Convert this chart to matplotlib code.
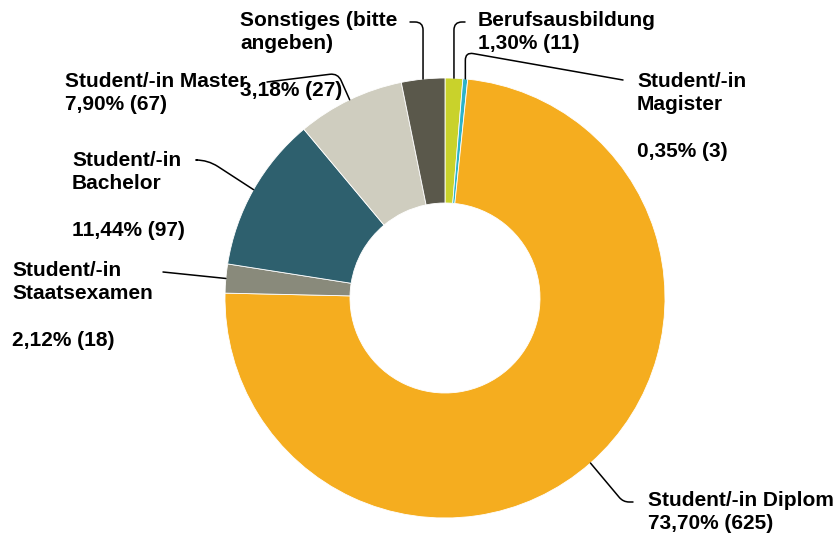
import matplotlib.pyplot as plt
import numpy as np

labels = ['Berufsausbildung', 'Student/-in\nMagister', 'Student/-in Diplom',
          'Student/-in\nStaatsexamen', 'Student/-in\nBachelor', 'Student/-in Master',
          'Sonstiges (bitte\nangeben)']
counts = [11, 3, 625, 18, 97, 67, 27]
percent_text = ['1,30%', '0,35%', '73,70%', '2,12%', '11,44%', '7,90%', '3,18%']
blank_line = [False, True, False, True, True, False, True]
colors = ['#c9d22b', '#2cb3c9', '#f5ad1f', '#898a7b', '#2e606e', '#cfcdbf', '#5a584b']

W, H = 837, 540
center = (445, H - 298)
radius = 220
hole = 95

# label top-left positions (pixels from top-left)
label_pos = [(478, 11), (637, 72), (648, 491), (12, 261), (72, 151), (65, 72), (240, 11)]
# leader lines: end point near label, angleA, angleB, corner radius
leaders = [((465, 22), 0, 90, 8),
           ((623, 80), 170, 90, 8),
           ((633, 502), 0, 130, 6),
           ((163, 272), 4, 4, 0),
           ((197, 160), 0, 147, 12),
           ((267, 82), 7, 114, 8),
           ((410, 22), 0, 90, 8)]

fig = plt.figure(figsize=(W / 100, H / 100), dpi=100)
ax = fig.add_axes([0, 0, 1, 1])

wedges, _ = ax.pie(counts, colors=colors, startangle=90, counterclock=False,
                   center=center, radius=radius,
                   wedgeprops=dict(width=radius - hole, edgecolor='white', linewidth=0.6))
ax.set_xlim(0, W)
ax.set_ylim(0, H)
ax.set_aspect('auto')
ax.axis('off')

font = dict(family='Liberation Sans', fontweight='bold', fontsize=15, color='black')

for i, w in enumerate(wedges):
    mid = np.deg2rad((w.theta1 + w.theta2) / 2)
    xy = (center[0] + radius * np.cos(mid), center[1] + radius * np.sin(mid))
    sep = '\n\n' if blank_line[i] else '\n'
    txt = f'{labels[i]}{sep}{percent_text[i]} ({counts[i]})'
    lx, ly = label_pos[i]
    ax.text(lx, H - ly, txt, ha='left', va='top', linespacing=1.28, **font)
    (ex, ey), a_a, a_b, rad = leaders[i]
    if rad > 0:
        cs = f'angle,angleA={a_a},angleB={a_b},rad={rad}'
    else:
        cs = 'arc3,rad=0'
    ax.annotate('', xy=xy, xytext=(ex, H - ey),
                arrowprops=dict(arrowstyle='-', color='black', lw=1.1,
                                shrinkA=0, shrinkB=0, connectionstyle=cs))

fig.savefig('out.png', dpi=100)
